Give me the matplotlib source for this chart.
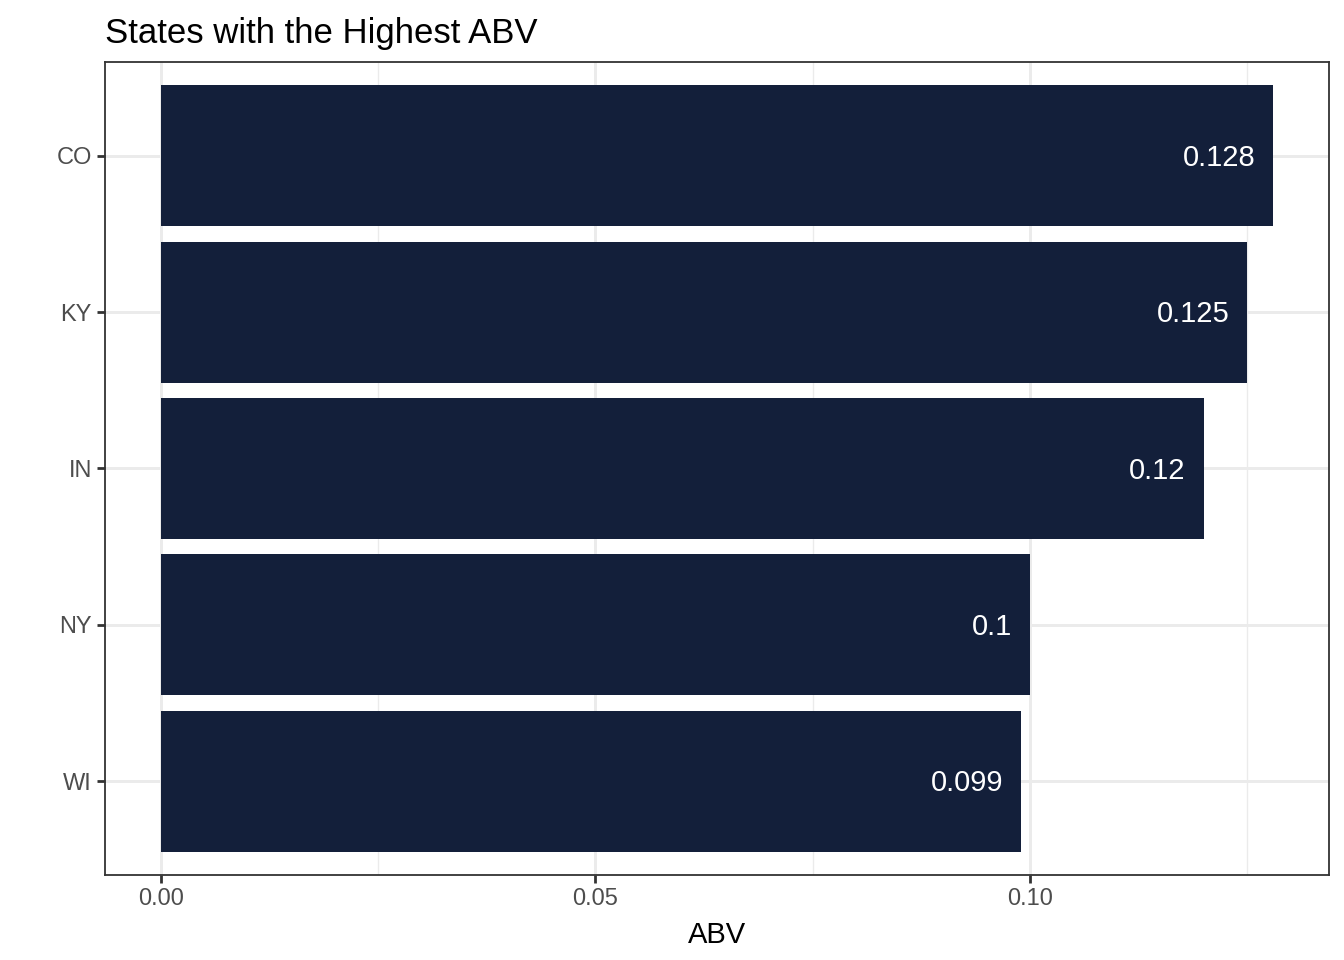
import matplotlib
matplotlib.use("Agg")
import matplotlib.pyplot as plt
from matplotlib.ticker import FixedLocator

# Datos: estados con mayor ABV
estados = ["WI", "NY", "IN", "KY", "CO"]
abv = [0.099, 0.100, 0.120, 0.125, 0.128]
etiquetas = ["0.099", "0.1", "0.12", "0.125", "0.128"]

plt.rcParams["font.family"] = ["Liberation Sans", "DejaVu Sans"]

fig = plt.figure(figsize=(13.44, 9.6), dpi=100)
ax = fig.add_axes([105 / 1344, 1 - 875 / 960, (1329 - 105) / 1344, (875 - 62) / 960])

pos = list(range(1, len(estados) + 1))
ax.barh(pos, abv, height=0.9, color="#131F3A", zorder=3)

# Etiquetas dentro de cada barra
for p, v, t in zip(pos, abv, etiquetas):
    ax.annotate(t, (v, p), xytext=(-13, -1.5), textcoords="offset points",
                ha="right", va="center", color="white", fontsize=21, zorder=4)

rango = max(abv)
ax.set_xlim(-0.05 * rango, rango * 1.05)
ax.set_ylim(0.4, len(estados) + 0.6)

ax.xaxis.set_major_locator(FixedLocator([0.0, 0.05, 0.10]))
ax.xaxis.set_minor_locator(FixedLocator([0.025, 0.075, 0.125]))
ax.set_xticklabels(["0.00", "0.05", "0.10"])
ax.set_yticks(pos)
ax.set_yticklabels(estados)

ax.grid(which="major", color="#EBEBEB", linewidth=2.1, zorder=0)
ax.grid(which="minor", axis="x", color="#EBEBEB", linewidth=1.0, zorder=0)
ax.tick_params(which="major", length=5.5, width=2, color="#333333",
               labelcolor="#4D4D4D", labelsize=17, pad=4)
ax.tick_params(which="minor", length=0)
for s in ax.spines.values():
    s.set_color("#333333")
    s.set_linewidth(1.3)

ax.set_xlabel("ABV", fontsize=21, labelpad=8)
ax.set_title("States with the Highest ABV", fontsize=25, loc="left", pad=14)

fig.savefig("out.png", dpi=100)
